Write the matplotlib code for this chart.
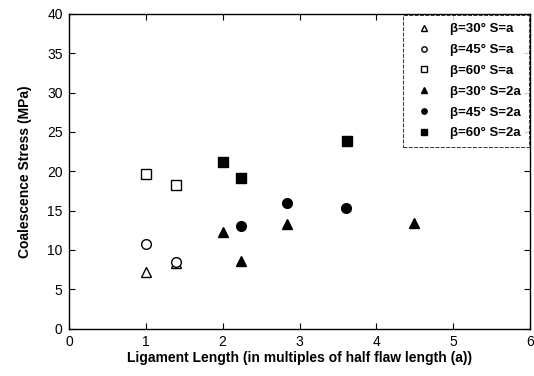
import numpy as np
import matplotlib as mpl
mpl.use('Agg')
from matplotlib import pyplot as plt

plt.rcParams['font.family'] = ['Liberation Sans', 'DejaVu Sans']

# Data
labels = ['β=30° S=a', 'β=45° S=a', 'β=60° S=a',
          'β=30° S=2a', 'β=45° S=2a', 'β=60° S=2a']
x_b30_a = [1.0, 1.39]
y_b30_a = [7.2, 8.3]
x_b45_a = [1.0, 1.39]
y_b45_a = [10.7, 8.5]
x_b60_a = [1.0, 1.39]
y_b60_a = [19.6, 18.3]
x_b30_2a = [2.0, 2.24, 2.84, 4.49]
y_b30_2a = [12.3, 8.6, 13.3, 13.4]
x_b45_2a = [2.24, 2.84, 3.61]
y_b45_2a = [13.0, 16.0, 15.3]
x_b60_2a = [2.0, 2.24, 3.62]
y_b60_2a = [21.2, 19.1, 23.9]

xs = [x_b30_a, x_b45_a, x_b60_a, x_b30_2a, x_b45_2a, x_b60_2a]
ys = [y_b30_a, y_b45_a, y_b60_a, y_b30_2a, y_b45_2a, y_b60_2a]
markers = ['^', 'o', 's', '^', 'o', 's']
filled = [False, False, False, True, True, True]

fig = plt.figure(figsize=(5.34, 3.76), dpi=100)
ax = fig.add_axes([0.129, 0.126, 0.864, 0.837])

for x, y, m, f, l in zip(xs, ys, markers, filled, labels):
	ax.plot(x, y, linestyle='none', marker=m, markersize=7,
		markerfacecolor='black' if f else 'white',
		markeredgecolor='black', markeredgewidth=1.0, label=l)

ax.set_xlim(0, 6)
ax.set_ylim(0, 40)
ax.set_xticks(np.arange(0, 7, 1))
ax.set_yticks(np.arange(0, 45, 5))
ax.tick_params(direction='in', top=True, right=True, length=4, width=0.8, labelsize=10, pad=4.5)
for s in ax.spines.values():
	s.set_linewidth(1.0)

ax.set_xlabel('Ligament Length (in multiples of half flaw length (a))', fontsize=10, fontweight='bold', labelpad=1.5)
ax.set_ylabel('Coalescence Stress (MPa)', fontsize=10, fontweight='bold', labelpad=11)

leg = ax.legend(loc='upper right', markerscale=0.55, frameon=True, fancybox=False,
	borderpad=0.6, labelspacing=0.65, handletextpad=1.0, borderaxespad=0.1,
	prop={'weight': 'bold', 'size': 9.5})
leg.get_frame().set_edgecolor('black')
leg.get_frame().set_linewidth(0.7)
leg.get_frame().set_linestyle((0, (4, 1.5)))

fig.savefig('out.png', dpi=100)
